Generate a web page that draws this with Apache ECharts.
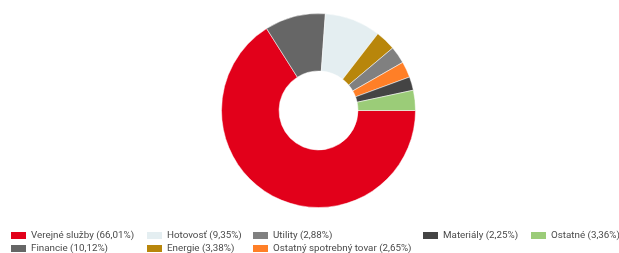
<!DOCTYPE html>
<html>
<head>
<meta charset="utf-8">
<script src="https://cdn.jsdelivr.net/npm/echarts@6/dist/echarts.min.js"></script>
<style>
  html, body { margin: 0; padding: 0; background: #fff; }
  #chart { width: 619px; height: 253px; }
</style>
</head>
<body>
<div id="chart"></div>
<script>
// sektory a podiely (%)
var names = ["Verejné služby", "Financie", "Hotovosť", "Energie", "Utility", "Ostatný spotrebný tovar", "Materiály", "Ostatné"];
var shares = [66.01, 10.12, 9.35, 3.38, 2.88, 2.65, 2.25, 3.36];
var labels = ["66,01%", "10,12%", "9,35%", "3,38%", "2,88%", "2,65%", "2,25%", "3,36%"];
var colors = ["#e2001a", "#666666", "#e4eef1", "#b8860b", "#808080", "#ff7f27", "#444444", "#9bcc78"];

// stlpce legendy
var legendCols = [[0, 1], [2, 3], [4, 5], [6], [7]];
var legendLeft = [9, 145, 251, 421, 529];

var chart = echarts.init(document.getElementById("chart"));

var legends = legendCols.map(function (col, i) {
  return {
    orient: "vertical",
    left: legendLeft[i],
    top: 230,
    height: 30,
    itemWidth: 17,
    itemHeight: 9,
    itemGap: 2,
    icon: "rect",
    selectedMode: false,
    padding: 0,
    data: col.map(function (k) { return names[k]; }),
    formatter: function (n) {
      return n + " (" + labels[names.indexOf(n)] + ")";
    },
    textStyle: {
      fontFamily: "Roboto",
      fontSize: 9.8,
      lineHeight: 11,
      color: "#4a4a4a",
      padding: [0, 0, 0, -1]
    }
  };
});

var option = {
  animation: false,
  color: colors,
  legend: legends,
  series: [
    {
      type: "pie",
      center: [318.5, 110.5],
      radius: [39.5, 97],
      startAngle: 0,
      clockwise: true,
      label: { show: false },
      labelLine: { show: false },
      itemStyle: { borderColor: "#fff", borderWidth: 0.5 },
      emphasis: { disabled: true },
      data: names.map(function (n, i) {
        return { name: n, value: shares[i] };
      })
    }
  ]
};

chart.setOption(option);
</script>
</body>
</html>
